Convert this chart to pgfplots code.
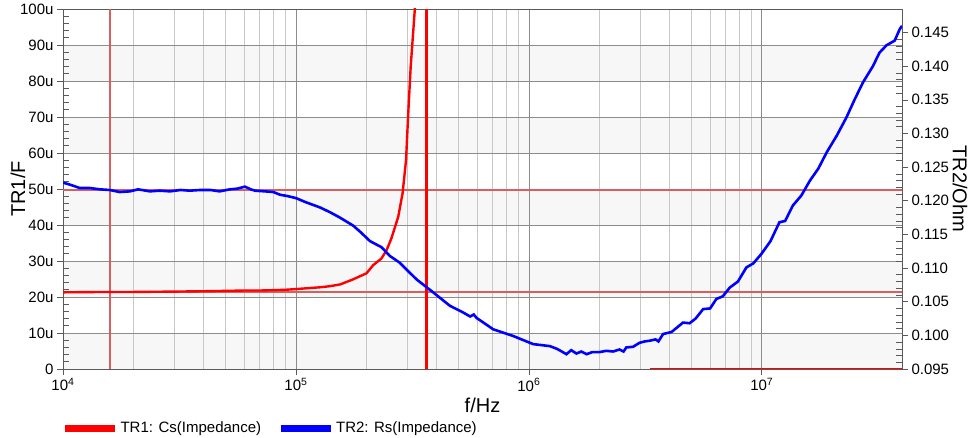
\documentclass[border=0pt]{standalone}
\usepackage{pgfplots}
\pgfplotsset{compat=1.18}
\usepackage{fontspec}
\setmainfont{Liberation Sans}

\definecolor{cursor}{HTML}{D95F5F}
\definecolor{band}{HTML}{F7F7F7}
\definecolor{gridmaj}{HTML}{8C8C8C}
\definecolor{gridmin}{HTML}{C8C8C8}
\definecolor{axline}{HTML}{5A5A5A}
\definecolor{trred}{HTML}{FF0000}
\definecolor{trblue}{HTML}{0000FF}

\begin{document}
\begin{tikzpicture}

% left axis: TR1 Cs in uF, grid, cursors
\begin{axis}[
  width=839bp, height=360bp, scale only axis,
  xmode=log, xmin=1e4, xmax=4e7,
  axis line style={axline, line width=0.8bp},
  tick style={axline, line width=0.6bp},
  tick align=outside,
  major tick length=6bp, minor tick length=6bp,
  tick label style={font=\fontsize{15bp}{18bp}\selectfont, text=black},
  label style={font=\fontsize{20bp}{24bp}\selectfont},
  set layers,
  ymin=0, ymax=100,
  ytick={0,10,...,100},
  yticklabels={0,10u,20u,30u,40u,50u,60u,70u,80u,90u,100u},
  minor y tick num=4,
  minor y tick style={xshift=6bp},
  minor x tick style={draw=none},
  xtick={1e4,1e5,1e6,1e7},
  xticklabels={10\textsuperscript{4},10\textsuperscript{5},10\textsuperscript{6},10\textsuperscript{7}},
  xtick pos=bottom, ytick pos=left,
  xmajorgrids, xminorgrids, ymajorgrids,
  major grid style={gridmaj, line width=0.7bp},
  minor grid style={gridmin, line width=0.7bp},
  xlabel={f/Hz},
  xlabel style={at={(axis description cs:0.5,-0.1)}, anchor=center},
  ylabel={TR1/F},
  ylabel style={at={(axis description cs:-0.0536,0.5)}, anchor=center},
]
% alternating background bands
\addplot[draw=none, fill=band, forget plot, on layer=axis background] coordinates {(1e4,0) (4e7,0) (4e7,10) (1e4,10)};
\addplot[draw=none, fill=band, forget plot, on layer=axis background] coordinates {(1e4,20) (4e7,20) (4e7,30) (1e4,30)};
\addplot[draw=none, fill=band, forget plot, on layer=axis background] coordinates {(1e4,40) (4e7,40) (4e7,50) (1e4,50)};
\addplot[draw=none, fill=band, forget plot, on layer=axis background] coordinates {(1e4,60) (4e7,60) (4e7,70) (1e4,70)};
\addplot[draw=none, fill=band, forget plot, on layer=axis background] coordinates {(1e4,80) (4e7,80) (4e7,90) (1e4,90)};

% cursors
\addplot[cursor, line width=1.3bp] coordinates {(1.59e4,0) (1.59e4,100)};
\addplot[cursor, line width=1.3bp] coordinates {(1e4,49.7) (4e7,49.7)};
\addplot[cursor, line width=1.3bp] coordinates {(1e4,21.4) (4e7,21.4)};

% TR1: Cs(Impedance)
\addplot[trred, line width=2.4bp] coordinates {
(1e4,21.3) (1.5e4,21.4) (2e4,21.4) (3e4,21.5) (4e4,21.6) (5e4,21.7)
(6e4,21.8) (7e4,21.8) (8e4,21.9) (9e4,22.0) (1e5,22.2) (1.1e5,22.4)
(1.27e5,22.7) (1.4e5,23.0) (1.55e5,23.5) (1.76e5,24.9) (2.01e5,26.6)
(2.15e5,28.9) (2.33e5,30.7) (2.45e5,33.0) (2.57e5,36.3) (2.75e5,42.3)
(2.87e5,48.8) (2.97e5,58.0) (3.03e5,70.0) (3.11e5,84.0) (3.24e5,100.0)
(3.3e5,115.0)
};
\addplot[trred, line width=3bp] coordinates {(3.65e5,0) (3.65e5,100)};
\addplot[trred, line width=2.4bp] coordinates {(3.3e6,0) (4e7,0)};
\end{axis}

% right axis: TR2 Rs in Ohm
\begin{axis}[
  width=839bp, height=360bp, scale only axis,
  xmode=log, xmin=1e4, xmax=4e7,
  axis line style={axline, line width=0.8bp},
  tick style={axline, line width=0.6bp},
  tick align=outside,
  major tick length=6bp, minor tick length=6bp,
  tick label style={font=\fontsize{15bp}{18bp}\selectfont, text=black},
  label style={font=\fontsize{20bp}{24bp}\selectfont},
  axis x line=none,
  axis y line*=right,
  ymin=0.095, ymax=0.1485,
  ytick={0.095,0.100,0.105,0.110,0.115,0.120,0.125,0.130,0.135,0.140,0.145},
  minor y tick num=4,
  minor y tick style={xshift=-6bp},
  scaled y ticks=false,
  yticklabel style={/pgf/number format/.cd, fixed, fixed zerofill, precision=3, assume math mode=true},
  ylabel={TR2/Ohm},
  ylabel style={at={(axis description cs:1.069,0.5)}, anchor=center, rotate=180},
  legend columns=2,
  legend style={at={(axis description cs:-0.002,-0.164)}, anchor=west,
    draw=none, fill=none, inner xsep=0pt, inner ysep=0pt,
    font=\fontsize{15bp}{18bp}\selectfont,
    /tikz/every even column/.append style={column sep=14bp}},
  legend image code/.code={\draw[line width=7bp] (0bp,0bp) -- (50bp,0bp);},
]
\addlegendimage{trred}
\addlegendentry{TR1: Cs(Impedance)}
\addplot[trblue, line width=2.6bp] coordinates {
(1e4,0.1227) (1.07e4,0.1224) (1.18e4,0.1219) (1.3e4,0.1219) (1.44e4,0.1217)
(1.59e4,0.1216) (1.75e4,0.1213) (1.94e4,0.1214) (2.1e4,0.1217) (2.36e4,0.1214)
(2.6e4,0.1215) (2.88e4,0.1214) (3.2e4,0.1216) (3.5e4,0.1215) (3.87e4,0.1216)
(4.3e4,0.1216) (4.7e4,0.1214) (5.21e4,0.1217) (5.6e4,0.1218) (6.04e4,0.1221)
(6.4e4,0.1217) (6.67e4,0.1215) (7.36e4,0.1214) (8e4,0.1213) (8.54e4,0.1209)
(9.2e4,0.1207) (1e5,0.1204) (1.1e5,0.1198) (1.27e5,0.1190) (1.4e5,0.1183)
(1.545e5,0.1175) (1.762e5,0.1163) (1.9e5,0.1153) (2.08e5,0.1140) (2.33e5,0.1131)
(2.53e5,0.1118) (2.79e5,0.1108) (3.0e5,0.1097) (3.3e5,0.1083) (3.88e5,0.1064)
(4.58e5,0.1044) (5.22e5,0.1034) (5.6e5,0.1028) (5.8e5,0.1031) (5.96e5,0.1026)
(7.03e5,0.1009) (8.57e5,0.0999) (1.043e6,0.0987) (1.23e6,0.0984) (1.32e6,0.0980)
(1.4e6,0.0975) (1.45e6,0.0972) (1.52e6,0.0978) (1.6e6,0.0973) (1.68e6,0.0976)
(1.77e6,0.0972) (1.87e6,0.0975) (2.0e6,0.0975) (2.15e6,0.0977) (2.3e6,0.0976)
(2.45e6,0.0979) (2.55e6,0.0976) (2.62e6,0.0982) (2.8e6,0.0983) (2.99e6,0.0989)
(3.15e6,0.0991) (3.3e6,0.0992) (3.5e6,0.0994) (3.6e6,0.0991) (3.77e6,0.1002)
(4.1e6,0.1005) (4.59e6,0.1019) (4.9e6,0.1018) (5.2e6,0.1025) (5.6e6,0.1039)
(6.0e6,0.1040) (6.38e6,0.1054) (6.8e6,0.1058) (7.29e6,0.1071) (7.9e6,0.1080)
(8.59e6,0.1101) (9.2e6,0.1107) (9.96e6,0.1121) (1.09e7,0.1140) (1.19e7,0.1168)
(1.26e7,0.1170) (1.36e7,0.1193) (1.48e7,0.1208) (1.61e7,0.1230) (1.75e7,0.1248)
(1.9e7,0.1272) (2.1e7,0.1297) (2.31e7,0.1324) (2.5e7,0.1350) (2.72e7,0.1376)
(3.0e7,0.1400) (3.2e7,0.1420) (3.43e7,0.1431) (3.72e7,0.1438) (3.91e7,0.1455)
(4.0e7,0.1460)
};
\addlegendentry{TR2: Rs(Impedance)}
\end{axis}

\pgfresetboundingbox
\useasboundingbox (-63bp,-69bp) rectangle (911bp,369bp);
\end{tikzpicture}
\end{document}
